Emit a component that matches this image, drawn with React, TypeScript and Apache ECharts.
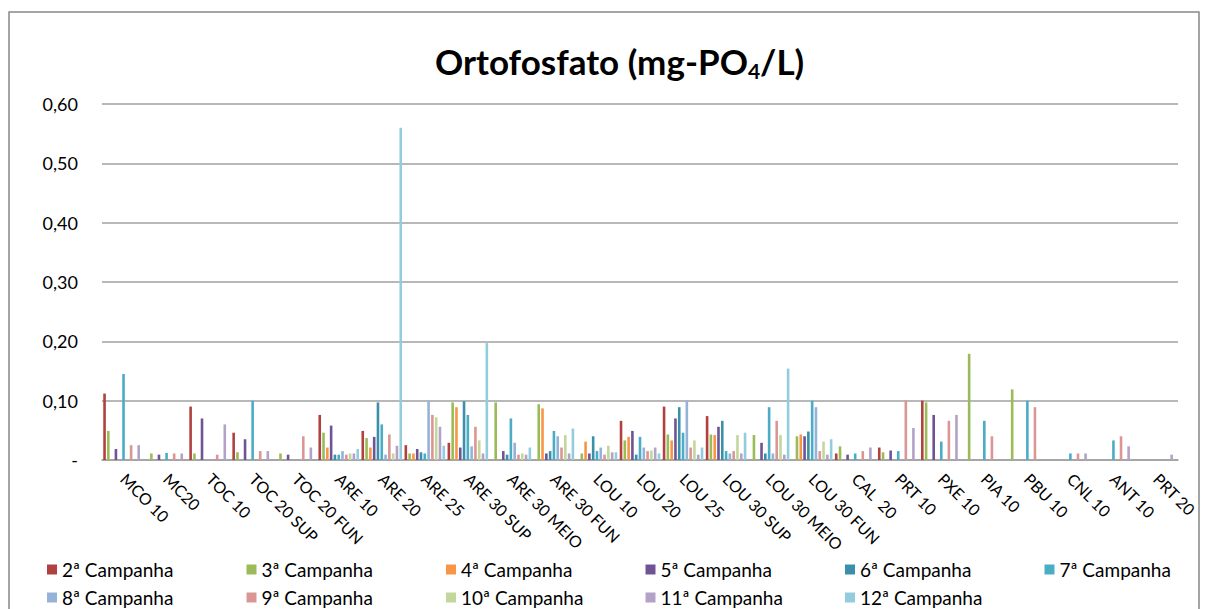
import React, { useEffect, useRef } from "react";
import * as echarts from "echarts";

const categories = [
  "MCO 10", "MC20", "TOC 10", "TOC 20 SUP", "TOC 20 FUN", "ARE 10", "ARE 20", "ARE 25",
  "ARE 30 SUP", "ARE 30 MEIO", "ARE 30 FUN", "LOU 10", "LOU 20", "LOU 25", "LOU 30 SUP",
  "LOU 30 MEIO", "LOU 30 FUN", "CAL  20", "PRT 10", "PXE 10", "PIA 10", "PBU 10", "CNL 10",
  "ANT 10", "PRT 20",
];

const seriesNames = [
  "2ª Campanha", "3ª Campanha", "4ª Campanha", "5ª Campanha", "6ª Campanha", "7ª Campanha",
  "8ª Campanha", "9ª Campanha", "10ª Campanha", "11ª Campanha", "12ª Campanha",
];

const c2 = [0.112, null, 0.09, 0.046, null, 0.076, 0.049, 0.025, 0.029, null, null, null, 0.066, 0.09, 0.074, null, null, 0.011, 0.021, 0.1, null, null, null, null, null];
const c3 = [0.049, 0.011, 0.011, 0.013, 0.011, 0.046, 0.037, 0.011, 0.097, 0.097, 0.094, 0.011, 0.033, 0.043, 0.043, 0.042, 0.04, 0.023, 0.013, 0.097, 0.179, 0.119, null, null, null];
const c4 = [null, null, null, null, null, 0.021, 0.021, 0.011, 0.089, null, 0.087, 0.031, 0.039, 0.033, 0.042, null, 0.043, null, null, null, null, null, null, null, null];
const c5 = [0.0185, 0.009, 0.07, 0.035, 0.009, 0.058, 0.039, 0.0185, 0.021, 0.015, 0.011, 0.011, 0.049, 0.07, 0.056, 0.029, 0.04, 0.009, 0.016, 0.076, null, null, null, null, null];
const c6 = [null, null, null, null, null, 0.009, 0.097, 0.013, 0.099, 0.009, 0.015, 0.04, 0.009, 0.089, 0.066, 0.011, 0.048, null, null, null, null, null, null, null, null];
const c7 = [0.145, 0.012, null, 0.1, null, 0.009, 0.06, 0.011, 0.076, 0.07, 0.049, 0.015, 0.039, 0.046, 0.015, 0.089, 0.1, 0.011, 0.015, 0.031, 0.066, 0.1, 0.011, 0.033, null];
const c8 = [null, null, null, null, null, 0.015, 0.009, 0.1, 0.023, 0.029, 0.04, 0.021, 0.021, 0.1, 0.011, 0.011, 0.089, null, null, null, null, null, null, null, null];
const c9 = [0.025, 0.011, 0.009, 0.015, 0.04, 0.009, 0.043, 0.076, 0.056, 0.009, 0.021, 0.009, 0.015, 0.021, 0.015, 0.066, 0.015, 0.015, 0.1, 0.066, 0.04, 0.089, 0.011, 0.04, null];
const c10 = [null, null, null, null, null, 0.011, 0.011, 0.072, 0.033, 0.011, 0.042, 0.024, 0.016, 0.033, 0.042, 0.042, 0.031, null, null, null, null, null, null, null, null];
const c11 = [0.025, 0.011, 0.06, 0.015, 0.021, 0.011, 0.024, 0.056, 0.011, 0.009, 0.011, 0.013, 0.021, 0.009, 0.011, 0.009, 0.009, 0.021, 0.054, 0.076, null, null, 0.011, 0.023, 0.009];
const c12 = [null, null, null, null, null, 0.0185, 0.56, 0.024, 0.197, 0.021, 0.053, 0.013, 0.011, 0.021, 0.046, 0.154, 0.035, null, null, null, null, null, null, null, null];

const seriesData = [c2, c3, c4, c5, c6, c7, c8, c9, c10, c11, c12];

const colors = [
  "#B0413E", "#9BBB59", "#F79646", "#6E5494", "#3B8FA8", "#4BACC6",
  "#95B3D7", "#D99694", "#C3D69B", "#B3A2C7", "#93CDDD",
];

const FONT = "Lato, 'Open Sans', sans-serif";

export default function App() {
  const ref = useRef<HTMLDivElement>(null);
  useEffect(() => {
    if (!ref.current) return;
    const chart = echarts.init(ref.current, null, { renderer: "svg" });
    const legends = seriesNames.map((name, i) => ({
      orient: "horizontal",
      icon: "rect",
      itemWidth: 10,
      itemHeight: 10,
      padding: 0,
      left: 47 + (i % 6) * 199.5,
      top: i < 6 ? 560 : 588,
      textStyle: { fontFamily: FONT, fontSize: 19, color: "#000" },
      data: [name],
    }));
    chart.setOption({
      animation: false,
      color: colors,
      title: {
        text: "Ortofosfato (mg-PO{sub|4}/L)",
        left: 430,
        top: 35,
        textStyle: {
          fontFamily: FONT,
          fontSize: 35,
          fontWeight: "bold",
          color: "#000",
          rich: {
            sub: { fontFamily: FONT, fontSize: 21, fontWeight: "bold", color: "#000", padding: [20, 0, 0, 0] },
          },
        },
      },
      legend: legends,
      grid: { left: 102, right: 30, top: 104, bottom: 149, containLabel: false },
      xAxis: {
        type: "category",
        data: categories,
        axisLine: { show: true, lineStyle: { color: "#A0A0A0", width: 1.5 } },
        axisTick: { show: false },
        axisLabel: {
          rotate: -45,
          interval: 0,
          margin: 16,
          fontFamily: FONT,
          fontSize: 16,
          color: "#000",
        },
      },
      yAxis: {
        type: "value",
        min: 0,
        max: 0.6,
        interval: 0.1,
        axisLine: { show: false },
        axisTick: { show: false },
        splitLine: { lineStyle: { color: "#A0A0A0", width: 1.5 } },
        axisLabel: {
          margin: 24,
          fontFamily: FONT,
          fontSize: 18,
          color: "#000",
          formatter: (v: number) => (v === 0 ? "-" : v.toFixed(2).replace(".", ",")),
        },
      },
      graphic: [
        {
          type: "rect",
          shape: { x: 9, y: 12, width: 1190, height: 640 },
          style: { fill: "none", stroke: "#888", lineWidth: 1.5 },
          silent: true,
        },
      ],
      series: seriesNames.map((name, i) => ({
        name,
        type: "bar",
        data: seriesData[i],
        barWidth: 2.6,
        barGap: "46%",
        itemStyle: { color: colors[i] },
      })),
    });
    return () => chart.dispose();
  }, []);
  return (
    <div
      ref={ref}
      style={{ position: "absolute", left: 0, top: 0, width: 1208, height: 609, background: "#fff" }}
    />
  );
}
